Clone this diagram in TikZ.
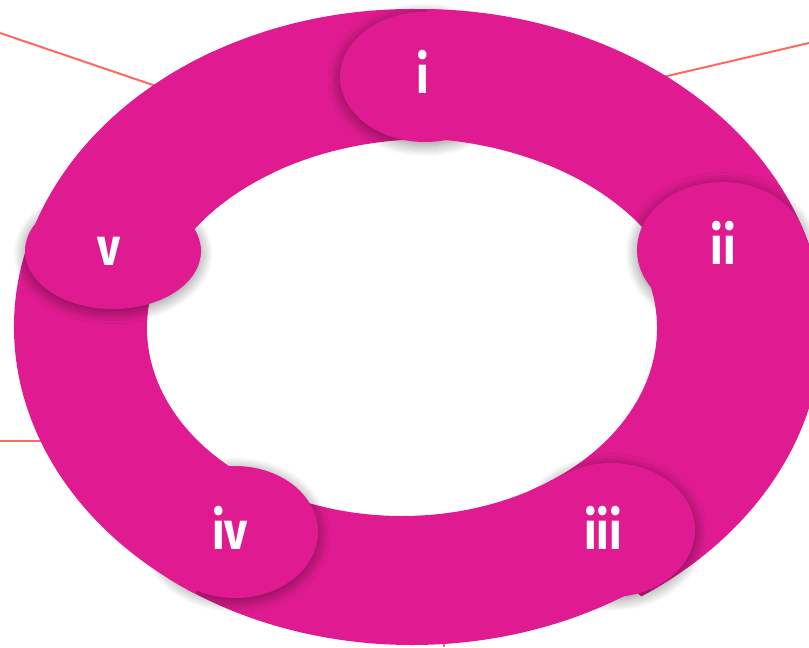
\documentclass[tikz,border=0pt]{standalone}
\usepackage{fontspec}
\setmainfont{Fira Sans}
\usetikzlibrary{calc,shadows.blur}
\definecolor{mag}{RGB}{224,27,145}
\definecolor{salmon}{RGB}{255,104,96}
\begin{document}
\begin{tikzpicture}[x=0.75pt,y=-0.75pt,
  ringbody/.style={fill=mag},
  headfill/.style={fill=mag, blur shadow={shadow xshift=0pt, shadow yshift=-2pt,
      shadow blur radius=9pt, shadow opacity=45, shadow blur steps=14}},
  conn/.style={draw=salmon, line width=1.5pt},
  lbl/.style={text=white, font=\fontsize{40}{40}\selectfont\bfseries,
      anchor=base, inner sep=0pt}]
\useasboundingbox (0,0) rectangle (809,647);
% connector lines (behind the ring)
\coordinate (tl0) at (0,33);   \coordinate (tl1) at (200,101);
\coordinate (tr0) at (809,43); \coordinate (tr1) at (620,87);
\coordinate (l0) at (0,441);   \coordinate (l1) at (80,441);
\coordinate (b0) at (444,647); \coordinate (b1) at (444,610);
\draw[conn] (tl0) -- (tl1);
\draw[conn] (tr0) -- (tr1);
\draw[conn] (l0) -- (l1);
\draw[conn] (b0) -- (b1);
% segment v -> i (first pass)
\fill[ringbody] ($(412,327)+(199:398 and 318)$)
  arc[start angle=199, end angle=276, x radius=398, y radius=318]
  -- ($(430,335)+(273:280 and 196)$)
  arc[start angle=273, end angle=211, x radius=280, y radius=196] -- cycle;
% head i
\fill[headfill] (425,77) ellipse [x radius=85, y radius=65];
% segment i -> ii
\fill[ringbody] ($(420,335)+(271:405 and 326)$)
  arc[start angle=271, end angle=345, x radius=405, y radius=326]
  -- ($(405,338)+(339:285 and 200)$)
  arc[start angle=339, end angle=274, x radius=285, y radius=200] -- cycle;
% head ii
\fill[headfill] (722,250) ellipse [x radius=85, y radius=68];
% segment ii -> iii
\fill[ringbody] ($(412,327)+(-17:410 and 325)$)
  arc[start angle=-17, end angle=56, x radius=410, y radius=325]
  -- ($(402,328)+(60:255 and 188)$)
  arc[start angle=60, end angle=-17, x radius=255, y radius=188] -- cycle;
% head iii
\fill[headfill] (611,530) ellipse [x radius=84, y radius=67];
% segment iii -> iv
\fill[ringbody] ($(412,327)+(52:398 and 318)$)
  arc[start angle=52, end angle=128, x radius=398, y radius=318]
  -- ($(402,328)+(128:255 and 188)$)
  arc[start angle=128, end angle=52, x radius=255, y radius=188] -- cycle;
% head iv
\fill[headfill] (235,532) ellipse [x radius=83, y radius=66];
% segment iv -> v
\fill[ringbody] ($(412,327)+(123:398 and 318)$)
  arc[start angle=123, end angle=199, x radius=398, y radius=318]
  -- ($(402,328)+(199:255 and 188)$)
  arc[start angle=199, end angle=123, x radius=255, y radius=188] -- cycle;
% head v
\fill[headfill] (113,251) ellipse [x radius=88, y radius=58];
% segment v -> i (start part, over the shadow of head v)
\fill[ringbody] ($(412,327)+(199:398 and 318)$)
  arc[start angle=199, end angle=240, x radius=398, y radius=318]
  -- ($(430,335)+(236:280 and 196)$)
  arc[start angle=236, end angle=211, x radius=280, y radius=196] -- cycle;
% labels
\node[lbl] (li)   at (423,93)  {\scalebox{0.84}[1]{i}};
\node[lbl] (lii)  at (723,264) {\scalebox{0.84}[1]{ii}};
\node[lbl] (liii) at (603,549) {\scalebox{0.84}[1]{iii}};
\node[lbl] (liv)  at (230,549) {\scalebox{0.84}[1]{iv}};
\node[lbl] (lv)   at (109,265) {\scalebox{0.84}[1]{v}};
\end{tikzpicture}
\end{document}
